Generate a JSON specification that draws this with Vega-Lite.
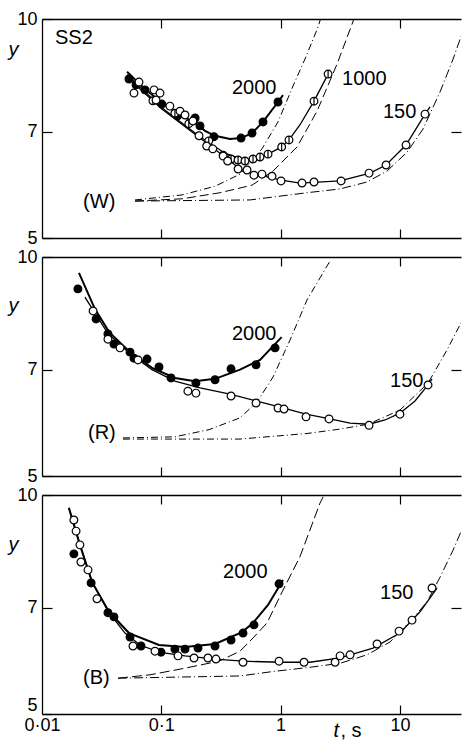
{
  "$schema": "https://vega.github.io/schema/vega-lite/v6.json",
  "padding": {"left": 8, "top": 10, "right": 0, "bottom": 0},
  "spacing": 1,
  "config": {
    "view": {"stroke": null},
    "font": "Liberation Sans",
    "axis": {"grid": false, "domainColor": "black", "tickColor": "black", "labelColor": "black", "titleColor": "black", "domainWidth": 1.3, "tickWidth": 1.2, "labelFont": "Liberation Sans", "titleFont": "Liberation Sans", "labelFontSize": 18, "titleFontSize": 20, "titleFontWeight": "normal"}
  },
  "resolve": {"scale": {"strokeDash": "independent"}},
  "datasets": {
    "fit": [
      {"p":"W","s":"2000","t":0.0516,"y":8.46},{"p":"W","s":"2000","t":0.073,"y":8.01},{"p":"W","s":"2000","t":0.101,"y":7.67},{"p":"W","s":"2000","t":0.1435,"y":7.38},{"p":"W","s":"2000","t":0.192,"y":7.2},{"p":"W","s":"2000","t":0.2325,"y":7.02},{"p":"W","s":"2000","t":0.282,"y":6.91},{"p":"W","s":"2000","t":0.377,"y":6.84},{"p":"W","s":"2000","t":0.466,"y":6.86},{"p":"W","s":"2000","t":0.576,"y":6.97},{"p":"W","s":"2000","t":0.712,"y":7.22},{"p":"W","s":"2000","t":0.951,"y":7.69},{"p":"W","s":"2000","t":1.047,"y":7.86},
      {"p":"W","s":"1000","t":0.0516,"y":8.38},{"p":"W","s":"1000","t":0.101,"y":7.55},{"p":"W","s":"1000","t":0.211,"y":6.89},{"p":"W","s":"1000","t":0.342,"y":6.54},{"p":"W","s":"1000","t":0.493,"y":6.4},{"p":"W","s":"1000","t":0.61,"y":6.42},{"p":"W","s":"1000","t":0.784,"y":6.52},{"p":"W","s":"1000","t":1.02,"y":6.67},{"p":"W","s":"1000","t":1.176,"y":6.82},{"p":"W","s":"1000","t":1.45,"y":7.15},{"p":"W","s":"1000","t":1.905,"y":7.71},{"p":"W","s":"1000","t":2.5,"y":8.4},
      {"p":"W","s":"150","t":0.0516,"y":8.32},{"p":"W","s":"150","t":0.101,"y":7.52},{"p":"W","s":"150","t":0.211,"y":6.86},{"p":"W","s":"150","t":0.342,"y":6.46},{"p":"W","s":"150","t":0.457,"y":6.22},{"p":"W","s":"150","t":0.672,"y":6.1},{"p":"W","s":"150","t":0.989,"y":6.01},{"p":"W","s":"150","t":1.45,"y":5.95},{"p":"W","s":"150","t":3.15,"y":5.99},{"p":"W","s":"150","t":5.61,"y":6.14},{"p":"W","s":"150","t":7.65,"y":6.3},{"p":"W","s":"150","t":11.25,"y":6.71},{"p":"W","s":"150","t":16.23,"y":7.4},{"p":"W","s":"150","t":17.9,"y":7.57},
      {"p":"R","s":"2000","t":0.0204,"y":9.51},{"p":"R","s":"2000","t":0.0278,"y":8.48},{"p":"R","s":"2000","t":0.0364,"y":7.89},{"p":"R","s":"2000","t":0.0547,"y":7.4},{"p":"R","s":"2000","t":0.0836,"y":7.04},{"p":"R","s":"2000","t":0.13,"y":6.82},{"p":"R","s":"2000","t":0.192,"y":6.75},{"p":"R","s":"2000","t":0.282,"y":6.8},{"p":"R","s":"2000","t":0.457,"y":7.0},{"p":"R","s":"2000","t":0.672,"y":7.22},{"p":"R","s":"2000","t":1.02,"y":7.76},
      {"p":"R","s":"150","t":0.0229,"y":8.81},{"p":"R","s":"150","t":0.0357,"y":7.85},{"p":"R","s":"150","t":0.0547,"y":7.36},{"p":"R","s":"150","t":0.0836,"y":7.0},{"p":"R","s":"150","t":0.13,"y":6.75},{"p":"R","s":"150","t":0.211,"y":6.61},{"p":"R","s":"150","t":0.377,"y":6.48},{"p":"R","s":"150","t":0.622,"y":6.34},{"p":"R","s":"150","t":0.989,"y":6.22},{"p":"R","s":"150","t":1.633,"y":6.08},{"p":"R","s":"150","t":2.59,"y":5.99},{"p":"R","s":"150","t":3.82,"y":5.91},{"p":"R","s":"150","t":5.51,"y":5.89},{"p":"R","s":"150","t":7.5,"y":5.97},{"p":"R","s":"150","t":10.0,"y":6.1},{"p":"R","s":"150","t":13.38,"y":6.34},{"p":"R","s":"150","t":17.2,"y":6.67},{"p":"R","s":"150","t":18.58,"y":6.8},
      {"p":"B","s":"2000","t":0.0168,"y":9.6},{"p":"B","s":"2000","t":0.0208,"y":8.54},{"p":"B","s":"2000","t":0.0263,"y":7.59},{"p":"B","s":"2000","t":0.0364,"y":6.91},{"p":"B","s":"2000","t":0.0536,"y":6.46},{"p":"B","s":"2000","t":0.0956,"y":6.22},{"p":"B","s":"2000","t":0.158,"y":6.18},{"p":"B","s":"2000","t":0.282,"y":6.24},{"p":"B","s":"2000","t":0.475,"y":6.48},{"p":"B","s":"2000","t":0.587,"y":6.67},{"p":"B","s":"2000","t":0.784,"y":7.06},{"p":"B","s":"2000","t":1.047,"y":7.64},
      {"p":"B","s":"150","t":0.0168,"y":9.6},{"p":"B","s":"150","t":0.0208,"y":8.54},{"p":"B","s":"150","t":0.0263,"y":7.59},{"p":"B","s":"150","t":0.0364,"y":6.89},{"p":"B","s":"150","t":0.0496,"y":6.46},{"p":"B","s":"150","t":0.0663,"y":6.22},{"p":"B","s":"150","t":0.0956,"y":6.08},{"p":"B","s":"150","t":0.158,"y":6.01},{"p":"B","s":"150","t":0.282,"y":5.95},{"p":"B","s":"150","t":0.484,"y":5.91},{"p":"B","s":"150","t":0.989,"y":5.89},{"p":"B","s":"150","t":1.76,"y":5.89},{"p":"B","s":"150","t":3.15,"y":5.97},{"p":"B","s":"150","t":5.95,"y":6.16},{"p":"B","s":"150","t":10.0,"y":6.46},{"p":"B","s":"150","t":14.74,"y":6.91},{"p":"B","s":"150","t":20.46,"y":7.45}
    ],
    "asym": [
      {"p":"W","s":"2000","t":0.0602,"y":5.64},{"p":"W","s":"2000","t":0.149,"y":5.73},{"p":"W","s":"2000","t":0.282,"y":5.89},{"p":"W","s":"2000","t":0.457,"y":6.12},{"p":"W","s":"2000","t":0.698,"y":6.63},{"p":"W","s":"2000","t":0.951,"y":7.22},{"p":"W","s":"2000","t":1.27,"y":8.09},{"p":"W","s":"2000","t":1.6,"y":8.81},{"p":"W","s":"2000","t":2.06,"y":9.75},{"p":"W","s":"2000","t":2.2,"y":10.1},
      {"p":"W","s":"1000","t":0.0602,"y":5.62},{"p":"W","s":"1000","t":0.149,"y":5.66},{"p":"W","s":"1000","t":0.31,"y":5.77},{"p":"W","s":"1000","t":0.576,"y":5.91},{"p":"W","s":"1000","t":0.864,"y":6.18},{"p":"W","s":"1000","t":1.373,"y":6.67},{"p":"W","s":"1000","t":2.02,"y":7.47},{"p":"W","s":"1000","t":2.97,"y":8.67},{"p":"W","s":"1000","t":3.97,"y":9.84},{"p":"W","s":"1000","t":4.2,"y":10.1},
      {"p":"W","s":"150","t":0.0602,"y":5.62},{"p":"W","s":"150","t":0.554,"y":5.64},{"p":"W","s":"150","t":1.665,"y":5.77},{"p":"W","s":"150","t":3.15,"y":5.84},{"p":"W","s":"150","t":5.3,"y":5.97},{"p":"W","s":"150","t":7.8,"y":6.18},{"p":"W","s":"150","t":11.47,"y":6.56},{"p":"W","s":"150","t":15.62,"y":7.06},{"p":"W","s":"150","t":21.7,"y":7.94},{"p":"W","s":"150","t":27.9,"y":8.81},{"p":"W","s":"150","t":33.8,"y":9.63},
      {"p":"R","s":"2000","t":0.0477,"y":5.64},{"p":"R","s":"2000","t":0.13,"y":5.66},{"p":"R","s":"2000","t":0.251,"y":5.79},{"p":"R","s":"2000","t":0.457,"y":6.01},{"p":"R","s":"2000","t":0.634,"y":6.32},{"p":"R","s":"2000","t":0.864,"y":6.84},{"p":"R","s":"2000","t":1.2,"y":7.69},{"p":"R","s":"2000","t":1.665,"y":8.73},{"p":"R","s":"2000","t":2.45,"y":9.72},{"p":"R","s":"2000","t":2.6,"y":9.88},
      {"p":"R","s":"150","t":0.0477,"y":5.62},{"p":"R","s":"150","t":0.457,"y":5.62},{"p":"R","s":"150","t":1.665,"y":5.72},{"p":"R","s":"150","t":3.15,"y":5.8},{"p":"R","s":"150","t":5.4,"y":5.89},{"p":"R","s":"150","t":10.0,"y":6.16},{"p":"R","s":"150","t":17.2,"y":6.71},{"p":"R","s":"150","t":24.8,"y":7.45},{"p":"R","s":"150","t":33.8,"y":8.22},
      {"p":"B","s":"2000","t":0.0434,"y":5.6},{"p":"B","s":"2000","t":0.0804,"y":5.66},{"p":"B","s":"2000","t":0.149,"y":5.77},{"p":"B","s":"2000","t":0.305,"y":5.91},{"p":"B","s":"2000","t":0.457,"y":6.1},{"p":"B","s":"2000","t":0.587,"y":6.36},{"p":"B","s":"2000","t":0.769,"y":6.67},{"p":"B","s":"2000","t":1.047,"y":7.4},{"p":"B","s":"2000","t":1.45,"y":8.22},{"p":"B","s":"2000","t":2.14,"y":9.75},{"p":"B","s":"2000","t":2.27,"y":9.94},
      {"p":"B","s":"150","t":0.0434,"y":5.6},{"p":"B","s":"150","t":0.457,"y":5.64},{"p":"B","s":"150","t":0.864,"y":5.72},{"p":"B","s":"150","t":1.665,"y":5.79},{"p":"B","s":"150","t":3.15,"y":5.87},{"p":"B","s":"150","t":5.3,"y":6.03},{"p":"B","s":"150","t":8.26,"y":6.28},{"p":"B","s":"150","t":12.88,"y":6.77},{"p":"B","s":"150","t":16.87,"y":7.13},{"p":"B","s":"150","t":21.7,"y":7.71},{"p":"B","s":"150","t":27.9,"y":8.4},{"p":"B","s":"150","t":33.8,"y":9.04}
    ],
    "pts": [
      {"p":"W","s":"2000","t":0.0536,"y":8.27},{"p":"W","s":"2000","t":0.0614,"y":8.12},{"p":"W","s":"2000","t":0.073,"y":7.99},{"p":"W","s":"2000","t":0.101,"y":7.64},{"p":"W","s":"2000","t":0.137,"y":7.36},{"p":"W","s":"2000","t":0.192,"y":7.31},{"p":"W","s":"2000","t":0.211,"y":7.13},{"p":"W","s":"2000","t":0.276,"y":6.89},{"p":"W","s":"2000","t":0.466,"y":6.86},{"p":"W","s":"2000","t":0.576,"y":6.97},{"p":"W","s":"2000","t":0.712,"y":7.22},{"p":"W","s":"2000","t":0.951,"y":7.69},
      {"p":"W","s":"1000","t":0.085,"y":7.72},{"p":"W","s":"1000","t":0.13,"y":7.42},{"p":"W","s":"1000","t":0.17,"y":7.18},{"p":"W","s":"1000","t":0.25,"y":6.8},{"p":"W","s":"1000","t":0.33,"y":6.5},{"p":"W","s":"1000","t":0.384,"y":6.42},{"p":"W","s":"1000","t":0.44,"y":6.4},{"p":"W","s":"1000","t":0.503,"y":6.38},{"p":"W","s":"1000","t":0.587,"y":6.42},{"p":"W","s":"1000","t":0.672,"y":6.46},{"p":"W","s":"1000","t":0.784,"y":6.52},{"p":"W","s":"1000","t":1.02,"y":6.67},{"p":"W","s":"1000","t":1.176,"y":6.82},{"p":"W","s":"1000","t":1.905,"y":7.71},{"p":"W","s":"1000","t":2.5,"y":8.4},
      {"p":"W","s":"150","t":0.065,"y":8.19},{"p":"W","s":"150","t":0.059,"y":7.91},{"p":"W","s":"150","t":0.0869,"y":7.99},{"p":"W","s":"150","t":0.0903,"y":7.74},{"p":"W","s":"150","t":0.0975,"y":7.91},{"p":"W","s":"150","t":0.118,"y":7.59},{"p":"W","s":"150","t":0.1435,"y":7.47},{"p":"W","s":"150","t":0.158,"y":7.38},{"p":"W","s":"150","t":0.184,"y":7.24},{"p":"W","s":"150","t":0.207,"y":6.91},{"p":"W","s":"150","t":0.24,"y":6.69},{"p":"W","s":"150","t":0.27,"y":6.63},{"p":"W","s":"150","t":0.33,"y":6.48},{"p":"W","s":"150","t":0.36,"y":6.38},{"p":"W","s":"150","t":0.44,"y":6.22},{"p":"W","s":"150","t":0.523,"y":6.2},{"p":"W","s":"150","t":0.598,"y":6.1},{"p":"W","s":"150","t":0.698,"y":6.12},{"p":"W","s":"150","t":0.847,"y":6.08},{"p":"W","s":"150","t":1.008,"y":5.99},{"p":"W","s":"150","t":1.512,"y":5.95},{"p":"W","s":"150","t":1.905,"y":5.97},{"p":"W","s":"150","t":3.21,"y":5.99},{"p":"W","s":"150","t":5.51,"y":6.14},{"p":"W","s":"150","t":7.65,"y":6.3},{"p":"W","s":"150","t":11.25,"y":6.71},{"p":"W","s":"150","t":16.23,"y":7.4},
      {"p":"R","s":"2000","t":0.02,"y":9.04},{"p":"R","s":"2000","t":0.0284,"y":8.22},{"p":"R","s":"2000","t":0.0357,"y":7.84},{"p":"R","s":"2000","t":0.0401,"y":7.59},{"p":"R","s":"2000","t":0.0547,"y":7.4},{"p":"R","s":"2000","t":0.059,"y":7.26},{"p":"R","s":"2000","t":0.0759,"y":7.24},{"p":"R","s":"2000","t":0.0956,"y":7.06},{"p":"R","s":"2000","t":0.1206,"y":6.82},{"p":"R","s":"2000","t":0.195,"y":6.71},{"p":"R","s":"2000","t":0.282,"y":6.78},{"p":"R","s":"2000","t":0.384,"y":7.02},{"p":"R","s":"2000","t":0.622,"y":7.11},{"p":"R","s":"2000","t":0.898,"y":7.5},
      {"p":"R","s":"150","t":0.0268,"y":8.43},{"p":"R","s":"150","t":0.0357,"y":7.71},{"p":"R","s":"150","t":0.0451,"y":7.5},{"p":"R","s":"150","t":0.0638,"y":7.22},{"p":"R","s":"150","t":0.167,"y":6.54},{"p":"R","s":"150","t":0.195,"y":6.5},{"p":"R","s":"150","t":0.384,"y":6.44},{"p":"R","s":"150","t":0.622,"y":6.3},{"p":"R","s":"150","t":0.951,"y":6.2},{"p":"R","s":"150","t":1.068,"y":6.18},{"p":"R","s":"150","t":1.633,"y":6.03},{"p":"R","s":"150","t":2.545,"y":5.99},{"p":"R","s":"150","t":5.51,"y":5.87},{"p":"R","s":"150","t":10.0,"y":6.08},{"p":"R","s":"150","t":17.2,"y":6.67},
      {"p":"B","s":"2000","t":0.0185,"y":8.3},{"p":"B","s":"2000","t":0.0258,"y":7.57},{"p":"B","s":"2000","t":0.0357,"y":6.89},{"p":"B","s":"2000","t":0.0401,"y":6.8},{"p":"B","s":"2000","t":0.0547,"y":6.38},{"p":"B","s":"2000","t":0.0676,"y":6.2},{"p":"B","s":"2000","t":0.0994,"y":6.08},{"p":"B","s":"2000","t":0.13,"y":6.14},{"p":"B","s":"2000","t":0.158,"y":6.14},{"p":"B","s":"2000","t":0.203,"y":6.16},{"p":"B","s":"2000","t":0.282,"y":6.2},{"p":"B","s":"2000","t":0.384,"y":6.32},{"p":"B","s":"2000","t":0.484,"y":6.46},{"p":"B","s":"2000","t":0.598,"y":6.63},{"p":"B","s":"2000","t":0.97,"y":7.55},
      {"p":"B","s":"150","t":0.0185,"y":9.24},{"p":"B","s":"150","t":0.0193,"y":8.92},{"p":"B","s":"150","t":0.0208,"y":8.54},{"p":"B","s":"150","t":0.0212,"y":8.09},{"p":"B","s":"150","t":0.0243,"y":7.89},{"p":"B","s":"150","t":0.0289,"y":7.2},{"p":"B","s":"150","t":0.0579,"y":6.2},{"p":"B","s":"150","t":0.0885,"y":6.1},{"p":"B","s":"150","t":0.138,"y":6.01},{"p":"B","s":"150","t":0.188,"y":5.97},{"p":"B","s":"150","t":0.246,"y":5.97},{"p":"B","s":"150","t":0.287,"y":5.95},{"p":"B","s":"150","t":0.484,"y":5.89},{"p":"B","s":"150","t":0.97,"y":5.91},{"p":"B","s":"150","t":1.571,"y":5.89},{"p":"B","s":"150","t":2.86,"y":5.89},{"p":"B","s":"150","t":3.15,"y":6.01},{"p":"B","s":"150","t":3.82,"y":6.03},{"p":"B","s":"150","t":6.43,"y":6.24},{"p":"B","s":"150","t":9.83,"y":6.5},{"p":"B","s":"150","t":12.63,"y":6.73},{"p":"B","s":"150","t":18.58,"y":7.45}
    ],
    "labels": [
      {"p":"W","label":"SS2","t":0.01285,"y":9.42},{"p":"W","label":"2000","t":0.391,"y":8.04},{"p":"W","label":"1000","t":3.27,"y":8.27},{"p":"W","label":"150","t":7.21,"y":7.45},{"p":"W","label":"(W)","t":0.0221,"y":5.6},
      {"p":"R","label":"2000","t":0.391,"y":7.84},{"p":"R","label":"150","t":8.26,"y":6.75},{"p":"R","label":"(R)","t":0.0243,"y":5.72},
      {"p":"B","label":"2000","t":0.329,"y":7.84},{"p":"B","label":"150","t":6.81,"y":7.33},{"p":"B","label":"(B)","t":0.0221,"y":5.6}
    ]
  },
  "vconcat": [
    {
      "width": 419, "height": 219,
      "resolve": {"axis": {"x": "independent", "y": "independent"}},
      "layer": [
        {"data": {"name": "asym"}, "transform": [{"filter": "datum.p=='W'"}],
         "mark": {"type": "line", "clip": true, "strokeWidth": 1, "color": "black"},
         "encoding": {
           "x": {"field": "t", "type": "quantitative", "scale": {"type": "log", "domain": [0.01, 32.5], "nice": false}, "axis": {"orient": "bottom", "labels": false, "ticks": false, "domain": true, "title": null}},
           "y": {"field": "y", "type": "quantitative", "scale": {"type": "log", "domain": [5, 10], "nice": false, "zero": false}, "axis": {"orient": "left", "values": [5, 7, 10], "labelExpr": "format(datum.value,'d')", "tickSize": -10, "labelPadding": 15, "domain": true, "title": "y", "titleAngle": 0, "titleX": -29, "titleY": 30, "titleAlign": "center", "titleBaseline": "middle", "titleFontStyle": "italic"}},
           "detail": {"field": "s"},
           "strokeDash": {"field": "s", "type": "nominal", "scale": {"domain": ["2000", "1000", "150"], "range": [[7, 3, 1, 3], [9, 4], [9, 3, 1, 3]]}, "legend": null}
         }},
        {"data": {"name": "fit"}, "transform": [{"filter": "datum.p=='W' && datum.s=='2000'"}],
         "mark": {"type": "line", "clip": true, "strokeWidth": 2, "color": "black"},
         "encoding": {
           "x": {"field": "t", "type": "quantitative", "axis": {"orient": "bottom", "values": [0.1, 1, 10], "labels": false, "tickSize": 9, "offset": -9, "domain": false, "title": null}},
           "y": {"field": "y", "type": "quantitative", "axis": {"orient": "right", "values": [7], "labels": false, "tickSize": 10, "offset": -10, "domain": false, "title": null}}}},
        {"data": {"name": "fit"}, "transform": [{"filter": "datum.p=='W' && datum.s!='2000'"}],
         "mark": {"type": "line", "clip": true, "strokeWidth": 1.3, "color": "black"},
         "encoding": {
           "x": {"field": "t", "type": "quantitative", "axis": {"orient": "top", "values": [0.1, 1, 10], "labels": false, "tickSize": 9, "offset": -9, "domain": false, "title": null}},
           "y": {"field": "y", "type": "quantitative", "axis": null}, "detail": {"field": "s"}}},
        {"data": {"name": "pts"}, "transform": [{"filter": "datum.p=='W'"}],
         "mark": {"type": "point", "stroke": "black", "strokeWidth": 1.2, "opacity": 1, "size": 60},
         "encoding": {
           "x": {"field": "t", "type": "quantitative", "axis": {"orient": "top", "labels": false, "ticks": false, "domain": true, "title": null}},
           "y": {"field": "y", "type": "quantitative", "axis": null},
           "shape": {"field": "s", "type": "nominal", "scale": {"domain": ["2000", "150", "1000"], "range": ["circle", "circle", "M0,-1A1,1 0 1,1 0,1A1,1 0 1,1 0,-1ZM0,-1L0,1"]}, "legend": null},
           "fill": {"field": "s", "type": "nominal", "scale": {"domain": ["2000", "150", "1000"], "range": ["black", "white", "white"]}, "legend": null}
         }},
        {"data": {"name": "labels"}, "transform": [{"filter": "datum.p=='W'"}],
         "mark": {"type": "text", "align": "left", "baseline": "middle", "fontSize": 20, "font": "Liberation Sans", "color": "black"},
         "encoding": {"x": {"field": "t", "type": "quantitative", "axis": null}, "y": {"field": "y", "type": "quantitative", "axis": null}, "text": {"field": "label"}}}
      ]
    },
    {
      "width": 419, "height": 219,
      "resolve": {"axis": {"x": "independent", "y": "independent"}},
      "layer": [
        {"data": {"name": "asym"}, "transform": [{"filter": "datum.p=='R'"}],
         "mark": {"type": "line", "clip": true, "strokeWidth": 1, "color": "black"},
         "encoding": {
           "x": {"field": "t", "type": "quantitative", "scale": {"type": "log", "domain": [0.01, 32.5], "nice": false}, "axis": {"orient": "bottom", "labels": false, "ticks": false, "domain": true, "title": null}},
           "y": {"field": "y", "type": "quantitative", "scale": {"type": "log", "domain": [5, 10], "nice": false, "zero": false}, "axis": {"orient": "left", "values": [5, 7, 10], "labelExpr": "format(datum.value,'d')", "tickSize": -10, "labelPadding": 15, "domain": true, "title": "y", "titleAngle": 0, "titleX": -29, "titleY": 48, "titleAlign": "center", "titleBaseline": "middle", "titleFontStyle": "italic"}},
           "detail": {"field": "s"},
           "strokeDash": {"field": "s", "type": "nominal", "scale": {"domain": ["2000", "150"], "range": [[7, 3, 1, 3], [7, 3, 1, 3]]}, "legend": null}
         }},
        {"data": {"name": "fit"}, "transform": [{"filter": "datum.p=='R' && datum.s=='2000'"}],
         "mark": {"type": "line", "clip": true, "strokeWidth": 2, "color": "black"},
         "encoding": {
           "x": {"field": "t", "type": "quantitative", "axis": {"orient": "bottom", "values": [0.1, 1, 10], "labels": false, "tickSize": 9, "offset": -9, "domain": false, "title": null}},
           "y": {"field": "y", "type": "quantitative", "axis": {"orient": "right", "values": [7], "labels": false, "tickSize": 10, "offset": -10, "domain": false, "title": null}}}},
        {"data": {"name": "fit"}, "transform": [{"filter": "datum.p=='R' && datum.s!='2000'"}],
         "mark": {"type": "line", "clip": true, "strokeWidth": 1.3, "color": "black"},
         "encoding": {
           "x": {"field": "t", "type": "quantitative", "axis": {"orient": "top", "values": [0.1, 1, 10], "labels": false, "tickSize": 9, "offset": -9, "domain": false, "title": null}},
           "y": {"field": "y", "type": "quantitative", "axis": null}, "detail": {"field": "s"}}},
        {"data": {"name": "pts"}, "transform": [{"filter": "datum.p=='R'"}],
         "mark": {"type": "point", "stroke": "black", "strokeWidth": 1.2, "opacity": 1, "size": 60},
         "encoding": {
           "x": {"field": "t", "type": "quantitative", "axis": {"orient": "top", "labels": false, "ticks": false, "domain": true, "title": null}},
           "y": {"field": "y", "type": "quantitative", "axis": null},
           "shape": {"field": "s", "type": "nominal", "scale": {"domain": ["2000", "150", "1000"], "range": ["circle", "circle", "M0,-1A1,1 0 1,1 0,1A1,1 0 1,1 0,-1ZM0,-1L0,1"]}, "legend": null},
           "fill": {"field": "s", "type": "nominal", "scale": {"domain": ["2000", "150", "1000"], "range": ["black", "white", "white"]}, "legend": null}
         }},
        {"data": {"name": "labels"}, "transform": [{"filter": "datum.p=='R'"}],
         "mark": {"type": "text", "align": "left", "baseline": "middle", "fontSize": 20, "font": "Liberation Sans", "color": "black"},
         "encoding": {"x": {"field": "t", "type": "quantitative", "axis": null}, "y": {"field": "y", "type": "quantitative", "axis": null}, "text": {"field": "label"}}}
      ]
    },
    {
      "width": 419, "height": 219,
      "resolve": {"axis": {"x": "independent", "y": "independent"}},
      "layer": [
        {"data": {"name": "asym"}, "transform": [{"filter": "datum.p=='B'"}],
         "mark": {"type": "line", "clip": true, "strokeWidth": 1, "color": "black"},
         "encoding": {
           "x": {"field": "t", "type": "quantitative", "scale": {"type": "log", "domain": [0.01, 32.5], "nice": false}, "axis": {"orient": "bottom", "values": [0.01, 0.1, 1, 10], "labelExpr": "datum.value == 0.01 ? '0·01' : datum.value == 0.1 ? '0·1' : format(datum.value,'d')", "labelFlush": false, "labelPadding": 2, "ticks": false, "domain": true, "title": "t", "titleFontStyle": "italic", "titleX": 291, "titleY": 22, "titleAlign": "left", "titleBaseline": "alphabetic"}},
           "y": {"field": "y", "type": "quantitative", "scale": {"type": "log", "domain": [5, 10], "nice": false, "zero": false}, "axis": {"orient": "left", "values": [5, 7, 10], "labelExpr": "format(datum.value,'d')", "labelBaseline": {"condition": {"test": "datum.value == 5", "value": "bottom"}, "value": "middle"}, "tickSize": -10, "labelPadding": 15, "domain": true, "title": "y", "titleAngle": 0, "titleX": -29, "titleY": 49, "titleAlign": "center", "titleBaseline": "middle", "titleFontStyle": "italic"}},
           "detail": {"field": "s"},
           "strokeDash": {"field": "s", "type": "nominal", "scale": {"domain": ["2000", "150"], "range": [[10, 4], [9, 3, 1, 3]]}, "legend": null}
         }},
        {"data": {"name": "fit"}, "transform": [{"filter": "datum.p=='B' && datum.s=='2000'"}],
         "mark": {"type": "line", "clip": true, "strokeWidth": 2, "color": "black"},
         "encoding": {
           "x": {"field": "t", "type": "quantitative", "axis": {"orient": "bottom", "values": [0.1, 1, 10], "labels": false, "tickSize": 9, "offset": -9, "domain": false, "title": null}},
           "y": {"field": "y", "type": "quantitative", "axis": {"orient": "right", "values": [7], "labels": false, "tickSize": 10, "offset": -10, "domain": false, "title": null}}}},
        {"data": {"name": "fit"}, "transform": [{"filter": "datum.p=='B' && datum.s!='2000'"}],
         "mark": {"type": "line", "clip": true, "strokeWidth": 1.3, "color": "black"},
         "encoding": {
           "x": {"field": "t", "type": "quantitative", "axis": {"orient": "top", "values": [0.1, 1, 10], "labels": false, "tickSize": 9, "offset": -9, "domain": false, "title": null}},
           "y": {"field": "y", "type": "quantitative", "axis": null}, "detail": {"field": "s"}}},
        {"data": {"name": "pts"}, "transform": [{"filter": "datum.p=='B'"}],
         "mark": {"type": "point", "stroke": "black", "strokeWidth": 1.2, "opacity": 1, "size": 60},
         "encoding": {
           "x": {"field": "t", "type": "quantitative", "axis": {"orient": "top", "labels": false, "ticks": false, "domain": true, "title": null}},
           "y": {"field": "y", "type": "quantitative", "axis": null},
           "shape": {"field": "s", "type": "nominal", "scale": {"domain": ["2000", "150", "1000"], "range": ["circle", "circle", "M0,-1A1,1 0 1,1 0,1A1,1 0 1,1 0,-1ZM0,-1L0,1"]}, "legend": null},
           "fill": {"field": "s", "type": "nominal", "scale": {"domain": ["2000", "150", "1000"], "range": ["black", "white", "white"]}, "legend": null}
         }},
        {"data": {"name": "labels"}, "transform": [{"filter": "datum.p=='B'"}],
         "mark": {"type": "text", "align": "left", "baseline": "middle", "fontSize": 20, "font": "Liberation Sans", "color": "black"},
         "encoding": {"x": {"field": "t", "type": "quantitative", "axis": {"orient": "bottom", "title": ", s", "labels": false, "ticks": false, "domain": false, "titleX": 298, "titleY": 22, "titleAlign": "left", "titleBaseline": "alphabetic", "titleFontStyle": "normal"}}, "y": {"field": "y", "type": "quantitative", "axis": null}, "text": {"field": "label"}}}
      ]
    }
  ]
}
